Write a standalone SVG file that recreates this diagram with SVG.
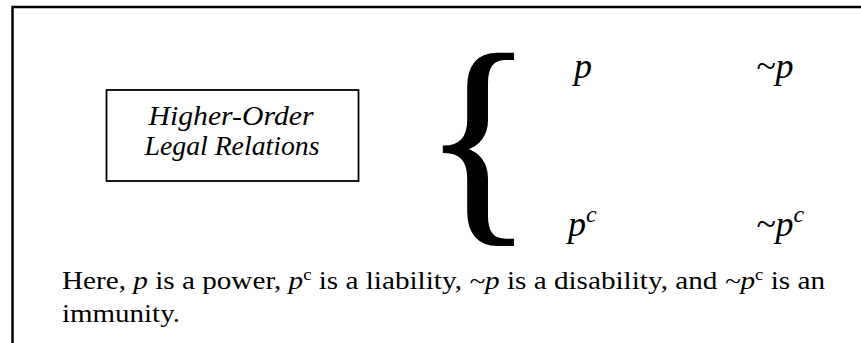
<svg xmlns="http://www.w3.org/2000/svg" width="861" height="343" viewBox="0 0 861 343">
<style>
.frame{fill:none;stroke:#000;stroke-width:2.5}
.box{fill:#fff;stroke:#000;stroke-width:1.8}
.it{font-family:"Liberation Serif",serif;font-style:italic;fill:#000}
.rm{font-family:"Liberation Serif",serif;fill:#000}
.sym{font-size:36px}
.sup{font-size:24px}
</style>
<rect width="861" height="343" fill="#fff"/>
<polyline class="frame" points="12.5,343 12.5,7 861,7"/>
<g id="node-title">
<rect class="box" x="106.5" y="90" width="252" height="91"/>
<text class="it" x="231" y="125" font-size="28" text-anchor="middle" textLength="165" lengthAdjust="spacingAndGlyphs">Higher-Order</text>
<text class="it" x="232" y="155" font-size="28" text-anchor="middle" textLength="175" lengthAdjust="spacingAndGlyphs">Legal Relations</text>
</g>
<g id="node-brace">
<text class="rm" x="478.5" y="214" font-size="232" text-anchor="middle" stroke="#000" stroke-width="2">{</text>
</g>
<g id="node-p"><text class="it sym" x="574" y="78">p</text></g>
<g id="node-notp"><text class="it sym" x="756" y="78">~p</text></g>
<g id="node-pc"><text class="it sym" x="568" y="236">p<tspan class="sup" dy="-14">c</tspan></text></g>
<g id="node-notpc"><text class="it sym" x="756" y="236">~p<tspan class="sup" dy="-14">c</tspan></text></g>
<g id="connectors"></g>
<g id="caption">
<text class="rm" x="62" y="289" font-size="25" textLength="763" lengthAdjust="spacingAndGlyphs">Here, <tspan class="it">p</tspan> is a power, <tspan class="it">p</tspan><tspan font-size="16" dy="-9">c</tspan><tspan dy="9"> is a liability, </tspan><tspan class="it">~p</tspan> is a disability, and <tspan class="it">~p</tspan><tspan font-size="16" dy="-9">c</tspan><tspan dy="9"> is an</tspan></text>
<text class="rm" x="62" y="322" font-size="25" textLength="118" lengthAdjust="spacingAndGlyphs">immunity.</text>
</g>
</svg>
